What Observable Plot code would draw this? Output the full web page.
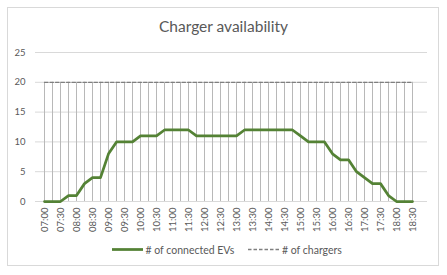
<!DOCTYPE html>
<html>
<head>
<meta charset="utf-8">
<script src="https://cdn.jsdelivr.net/npm/d3@7"></script>
<script src="https://cdn.jsdelivr.net/npm/@observablehq/plot@0.6"></script>
<style>
  html, body { margin: 0; padding: 0; background: #fff; }
  #wrap { position: relative; width: 447px; height: 275px; font-family: Lato, "Open Sans", sans-serif; color: #595959; }
  #border { position: absolute; left: 7px; top: 7px; width: 432px; height: 259px; border: 1px solid #d9d9d9; box-sizing: border-box; }
  #title { position: absolute; left: 0; width: 447px; top: 17px; text-align: center; font-size: 15.5px; color: #595959; }
  #legend { position: absolute; left: 0; top: 242px; width: 447px; height: 14px; font-size: 10.5px; color: #595959; }
  #chart { position: absolute; left: 0; top: 0; }
</style>
</head>
<body>
<div id="wrap">
  <div id="border"></div>
  <div id="chart"></div>
  <div id="title">Charger availability</div>
  <div id="legend"></div>
</div>
<script>
const times = ["07:00","07:15","07:30","07:45","08:00","08:15","08:30","08:45","09:00","09:15","09:30","09:45",
  "10:00","10:15","10:30","10:45","11:00","11:15","11:30","11:45","12:00","12:15","12:30","12:45",
  "13:00","13:15","13:30","13:45","14:00","14:15","14:30","14:45","15:00","15:15","15:30","15:45",
  "16:00","16:15","16:30","16:45","17:00","17:15","17:30","17:45","18:00","18:15","18:30"];
const connectedEVs = [0,0,0,1,1,3,4,4,8,10,10,10,
  11,11,11,12,12,12,12,11,11,11,11,11,
  11,12,12,12,12,12,12,12,11,10,10,10,
  8,7,7,5,4,3,3,1,0,0,0];
const chargers = times.map(() => 20);
const yTicks = [0,5,10,15,20,25];
const xTickLabels = times.filter((t, i) => i % 2 === 0);
const seriesNames = ["# of connected EVs", "# of chargers"];

const rows = times.map((t, i) => ({time: t, evs: connectedEVs[i], chargers: chargers[i]}));

const chart = Plot.plot({
  width: 447,
  height: 275,
  marginTop: 52,
  marginBottom: 74,
  marginLeft: 35,
  marginRight: 20,
  style: {fontFamily: "Lato, 'Open Sans', sans-serif", background: "transparent"},
  x: {type: "point", domain: times, range: [39.3, 417.7]},
  y: {domain: [0, 25]},
  marks: [
    Plot.ruleY(yTicks, {stroke: "#d9d9d9", strokeWidth: 1}),
    Plot.ruleX(rows, {x: "time", y1: 0, y2: "chargers", stroke: "#b8b8b8", strokeWidth: 1}),
    Plot.lineY(rows, {x: "time", y: "chargers", stroke: "#7f7f7f", strokeWidth: 1.3, strokeDasharray: "3.5,2"}),
    Plot.lineY(rows, {x: "time", y: "evs", stroke: "#548235", strokeWidth: 2.75, strokeLinejoin: "round"}),
    Plot.axisY({ticks: yTicks, tickSize: 0, tickPadding: 10, fontSize: 9.5, color: "#595959", label: null}),
    Plot.axisX({ticks: xTickLabels, tickSize: 0, tickPadding: 6, tickRotate: -90, fontSize: 9.5, color: "#595959", label: null})
  ]
});
document.getElementById("chart").appendChild(chart);

// legend
const leg = d3.select("#legend").append("svg").attr("width", 447).attr("height", 16);
leg.append("line").attr("x1", 112).attr("x2", 143).attr("y1", 7.5).attr("y2", 7.5)
  .attr("stroke", "#548235").attr("stroke-width", 2.75);
leg.append("text").attr("x", 145.5).attr("y", 11.5).attr("fill", "#595959").attr("font-size", 10.5)
  .text(seriesNames[0]);
leg.append("line").attr("x1", 248).attr("x2", 280).attr("y1", 7.5).attr("y2", 7.5)
  .attr("stroke", "#7f7f7f").attr("stroke-width", 1.3).attr("stroke-dasharray", "3.5,2");
leg.append("text").attr("x", 282).attr("y", 11.5).attr("fill", "#595959").attr("font-size", 10.5)
  .text(seriesNames[1]);
</script>
</body>
</html>
